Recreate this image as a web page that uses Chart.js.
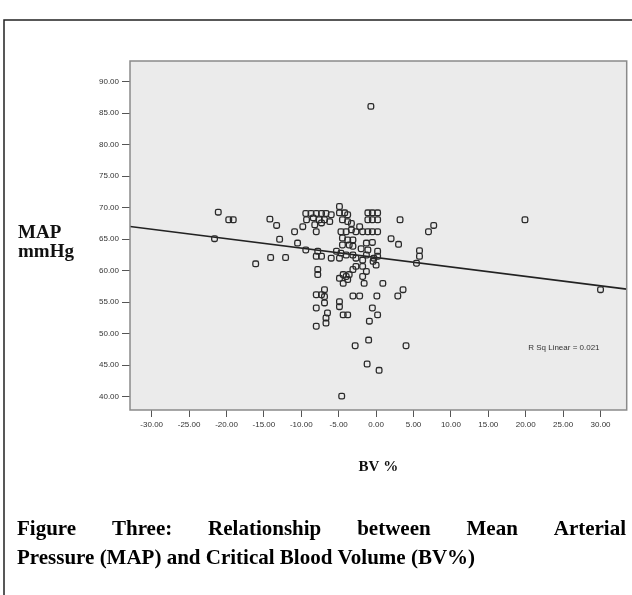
<!DOCTYPE html>
<html>
<head>
<meta charset="utf-8">
<script src="https://cdn.jsdelivr.net/npm/chart.js@4.4.0/dist/chart.umd.min.js"></script>
<style>
html, body { margin: 0; padding: 0; background: #fff; }
#wrap { width: 632px; height: 595px; position: relative; }
</style>
</head>
<body>
<div id="wrap"><canvas id="map-bv-chart"></canvas></div>
<script>
// BV % (x) and MAP mmHg (y)
var bvPercent = [
    -0.7, -21.1, -19.7, -19.1, -21.6, -14.2, -13.3, -12.9, -16.1, -14.1,
    -12.1, -10.9, -10.5, -9.4, -9.8, -9.4, -8.7, -8.0, -7.3, -6.7,
    -6.0, -9.3, -8.4, -7.6, -6.9, -6.2, -8.2, -7.3, -8.0, -4.9,
    -4.9, -4.2, -3.8, -4.5, -3.8, -4.7, -4.0, -3.3, -2.7, -1.8,
    -4.5, -3.8, -3.1, -4.5, -3.6, -3.1, -5.3, -4.7, -4.0, -3.1,
    -8.0, -7.3, -7.8, -4.9, -2.7, -1.8, -1.1, -0.5, 0.2, -1.1,
    -0.5, 0.2, -1.1, -0.5, 0.2, -1.3, -1.1, -1.3, 0.2, 0.2,
    -0.4, 0.0, -1.8, -1.3, -2.7, -3.1, -3.6, -4.4, -4.0, -4.4,
    -3.8, -4.9, -1.8, -1.6, 0.9, -7.8, -7.8, -6.9, -7.3, -8.0,
    -6.9, -6.9, -8.0, -6.5, -6.7, -6.7, -8.0, -4.9, -4.9, -4.4,
    -3.8, -3.1, -2.2, 0.1, -0.5, 0.2, -0.9, -1.0, -2.8, 4.0,
    -1.2, 0.4, -4.6, 2.0, 3.0, 3.2, 2.9, 3.6, 5.8, 5.8,
    5.4, 7.0, 7.7, 19.9, 30.0, -2.2, -3.3, -0.5, -0.3, -2.0, -6.0
];
var mapValues = [
    86.1, 69.3, 68.1, 68.1, 65.1, 68.2, 67.2, 65.0, 61.1, 62.1,
    62.1, 66.2, 64.4, 63.3, 67.0, 69.1, 69.1, 69.1, 69.1, 69.1,
    68.9, 68.1, 68.4, 68.1, 68.1, 67.8, 67.3, 67.6, 66.2, 70.2,
    69.2, 69.2, 68.9, 68.1, 67.8, 66.2, 66.2, 66.5, 66.2, 66.2,
    65.2, 64.9, 64.9, 64.1, 64.1, 63.9, 63.1, 62.8, 62.5, 62.5,
    62.3, 62.3, 63.1, 62.0, 62.0, 61.7, 69.2, 69.2, 69.2, 68.1,
    68.1, 68.1, 66.2, 66.2, 66.2, 64.4, 63.3, 62.5, 63.1, 62.3,
    61.5, 60.9, 60.7, 59.9, 60.7, 60.2, 59.4, 59.4, 59.1, 58.0,
    58.6, 58.8, 59.1, 58.0, 58.0, 60.2, 59.4, 57.0, 56.2, 56.2,
    55.9, 54.9, 54.1, 53.3, 52.5, 51.7, 51.2, 55.1, 54.3, 53.0,
    53.0, 56.0, 56.0, 56.0, 54.1, 53.0, 52.0, 49.0, 48.1, 48.1,
    45.2, 44.2, 40.1, 65.1, 64.2, 68.1, 56.0, 57.0, 63.2, 62.3,
    61.2, 66.2, 67.2, 68.1, 57.0, 67.0, 67.5, 64.5, 62.0, 63.5, 62.0
];

// linear fit line (ends at the plot edges)
var fitX = [-32.9, 33.5];
var fitY = [67.02, 57.09];

var xTicks = [-30, -25, -20, -15, -10, -5, 0, 5, 10, 15, 20, 25, 30];
var yTicks = [40, 45, 50, 55, 60, 65, 70, 75, 80, 85, 90];

var scatterPoints = bvPercent.map(function (x, i) { return { x: x, y: mapValues[i] }; });
var fitPoints = fitX.map(function (x, i) { return { x: x, y: fitY[i] }; });

var serif = '"Liberation Serif", "DejaVu Serif", serif';

var frameAndText = {
    id: 'frameAndText',
    beforeDraw: function (chart) {
        var ctx = chart.ctx, a = chart.chartArea;
        ctx.save();
        ctx.fillStyle = '#fff';
        ctx.fillRect(0, 0, chart.width, chart.height);
        // outer figure frame
        ctx.strokeStyle = '#222';
        ctx.lineWidth = 1.5;
        ctx.beginPath();
        ctx.moveTo(4, 595);
        ctx.lineTo(4, 20);
        ctx.lineTo(632, 20);
        ctx.stroke();
        // plot background
        ctx.fillStyle = '#ebebeb';
        ctx.fillRect(a.left, a.top, a.right - a.left, a.bottom - a.top);
        ctx.restore();
    },
    afterDraw: function (chart) {
        var ctx = chart.ctx, a = chart.chartArea;
        var xs = chart.scales.x, ys = chart.scales.y;
        ctx.save();
        ctx.strokeStyle = '#8a8a8a';
        ctx.lineWidth = 1.5;
        ctx.strokeRect(a.left, a.top, a.right - a.left, a.bottom - a.top);

        ctx.fillStyle = '#111';
        ctx.textBaseline = 'alphabetic';
        ctx.textAlign = 'left';
        ctx.font = 'bold 19px ' + serif;
        ctx.fillText('MAP', 18, 238);
        ctx.fillText('mmHg', 18, 257);

        ctx.textAlign = 'center';
        ctx.font = 'bold 15px ' + serif;
        ctx.fillText('BV %', (a.left + a.right) / 2, 471);

        // R squared note
        ctx.font = '8px "Liberation Sans", Arial, sans-serif';
        ctx.fillStyle = '#333';
        ctx.fillText('R Sq Linear = 0.021', xs.getPixelForValue(25.1), ys.getPixelForValue(47.5));

        // caption, first line justified
        ctx.fillStyle = '#000';
        ctx.textAlign = 'left';
        ctx.font = 'bold 21px ' + serif;
        var words = 'Figure Three: Relationship between Mean Arterial'.split(' ');
        var left = 17, right = 626;
        var total = 0;
        words.forEach(function (w) { total += ctx.measureText(w).width; });
        var gap = (right - left - total) / (words.length - 1);
        var x = left;
        words.forEach(function (w) {
            ctx.fillText(w, x, 535);
            x += ctx.measureText(w).width + gap;
        });
        ctx.fillText('Pressure (MAP) and Critical Blood Volume (BV%)', left, 564);
        ctx.restore();
    }
};

var layout = {
    type: 'scatter',
    data: {
        datasets: [{
            label: 'MAP',
            data: scatterPoints,
            pointStyle: 'rectRounded',
            pointRadius: 3.3,
            borderWidth: 1.3,
            borderColor: '#2a2a2a',
            backgroundColor: 'rgba(0,0,0,0)'
        }, {
            type: 'line',
            label: 'fit',
            data: fitPoints,
            borderColor: '#222',
            borderWidth: 1.6,
            pointRadius: 0,
            fill: false
        }]
    },
    options: {
        responsive: true,
        maintainAspectRatio: false,
        animation: false,
        layout: {
            padding: { left: 90, top: 61, right: 4, bottom: 155 }
        },
        plugins: {
            legend: { display: false },
            tooltip: { enabled: false }
        },
        scales: {
            x: {
                type: 'linear',
                min: -32.9,
                max: 33.5,
                afterBuildTicks: function (scale) {
                    scale.ticks = xTicks.map(function (v) { return { value: v }; });
                },
                afterFit: function (scale) { scale.height = 30; },
                border: { display: false },
                grid: { drawOnChartArea: false, tickLength: 7, color: '#555' },
                ticks: {
                    padding: 3,
                    maxRotation: 0,
                    autoSkip: false,
                    color: '#333',
                    font: { family: '"Liberation Sans", Arial, sans-serif', size: 8 },
                    callback: function (v) { return v.toFixed(2); }
                }
            },
            y: {
                type: 'linear',
                min: 37.9,
                max: 93.3,
                afterBuildTicks: function (scale) {
                    scale.ticks = yTicks.map(function (v) { return { value: v }; });
                },
                afterFit: function (scale) { scale.width = 40; },
                border: { display: false },
                grid: { drawOnChartArea: false, tickLength: 8, color: '#555' },
                ticks: {
                    padding: 3,
                    autoSkip: false,
                    color: '#333',
                    font: { family: '"Liberation Sans", Arial, sans-serif', size: 8 },
                    callback: function (v) { return v.toFixed(2); }
                }
            }
        }
    },
    plugins: [frameAndText]
};

const mapChart = document.getElementById('map-bv-chart');
new Chart(mapChart, layout);
</script>
</body>
</html>
